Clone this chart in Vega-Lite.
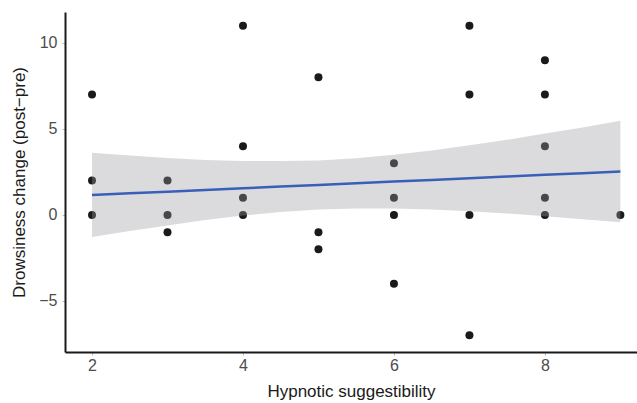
{
  "$schema": "https://vega.github.io/schema/vega-lite/v6.json",
  "width": 572,
  "height": 340,
  "autosize": {"type": "none"},
  "padding": {"left": 65, "top": 12, "right": 0, "bottom": 51},
  "background": "white",
  "config": {
    "view": {"stroke": null},
    "font": "Liberation Sans",
    "axis": {
      "grid": false,
      "domainColor": "#1a1a1a",
      "domainWidth": 2,
      "tickColor": "#bbbbbb",
      "tickSize": 3,
      "labelColor": "#4d4d4d",
      "labelFontSize": 16,
      "titleFontSize": 17,
      "titleFontWeight": "normal",
      "titleColor": "#1a1a1a",
      "labelFont": "Liberation Sans",
      "titleFont": "Liberation Sans"
    }
  },
  "datasets": {
    "pts": [
      {"x": 2, "y": 7}, {"x": 2, "y": 2}, {"x": 2, "y": 0},
      {"x": 3, "y": 2}, {"x": 3, "y": 0}, {"x": 3, "y": -1},
      {"x": 4, "y": 11}, {"x": 4, "y": 4}, {"x": 4, "y": 1}, {"x": 4, "y": 0},
      {"x": 5, "y": 8}, {"x": 5, "y": -1}, {"x": 5, "y": -2},
      {"x": 6, "y": 3}, {"x": 6, "y": 1}, {"x": 6, "y": 0}, {"x": 6, "y": -4},
      {"x": 7, "y": 11}, {"x": 7, "y": 7}, {"x": 7, "y": 0}, {"x": 7, "y": -7},
      {"x": 8, "y": 9}, {"x": 8, "y": 7}, {"x": 8, "y": 4}, {"x": 8, "y": 1}, {"x": 8, "y": 0},
      {"x": 9, "y": 0}
    ],
    "band": [
      {"x": 2, "fit": 1.16, "lo": -1.29, "hi": 3.61},
      {"x": 2.5, "fit": 1.26, "lo": -0.93, "hi": 3.45},
      {"x": 3, "fit": 1.35, "lo": -0.61, "hi": 3.31},
      {"x": 3.5, "fit": 1.45, "lo": -0.3, "hi": 3.2},
      {"x": 4, "fit": 1.55, "lo": -0.04, "hi": 3.14},
      {"x": 4.5, "fit": 1.65, "lo": 0.17, "hi": 3.13},
      {"x": 5, "fit": 1.74, "lo": 0.31, "hi": 3.17},
      {"x": 5.5, "fit": 1.84, "lo": 0.38, "hi": 3.3},
      {"x": 6, "fit": 1.94, "lo": 0.38, "hi": 3.5},
      {"x": 6.5, "fit": 2.03, "lo": 0.31, "hi": 3.75},
      {"x": 7, "fit": 2.13, "lo": 0.21, "hi": 4.05},
      {"x": 7.5, "fit": 2.23, "lo": 0.09, "hi": 4.37},
      {"x": 8, "fit": 2.33, "lo": -0.07, "hi": 4.73},
      {"x": 8.5, "fit": 2.42, "lo": -0.25, "hi": 5.09},
      {"x": 9, "fit": 2.52, "lo": -0.43, "hi": 5.47}
    ]
  },
  "layer": [
    {
      "data": {"name": "pts"},
      "mark": {"type": "circle", "size": 64, "color": "#1a1a1a", "opacity": 1},
      "encoding": {
        "x": {
          "field": "x", "type": "quantitative",
          "scale": {"domain": [1.642, 9.22], "nice": false, "zero": false},
          "axis": {"values": [2, 4, 6, 8], "format": "d", "title": "Hypnotic suggestibility", "labelPadding": 2, "titlePadding": 10}
        },
        "y": {
          "field": "y", "type": "quantitative",
          "scale": {"domain": [-7.97, 11.8], "nice": false, "zero": false},
          "axis": {"values": [-5, 0, 5, 10], "format": "d", "title": "Drowsiness change (post−pre)", "labelPadding": 5, "titlePadding": 10}
        }
      }
    },
    {
      "data": {"name": "band"},
      "mark": {"type": "area", "color": "#9a9ca2", "opacity": 0.36},
      "encoding": {
        "x": {"field": "x", "type": "quantitative"},
        "y": {"field": "lo", "type": "quantitative"},
        "y2": {"field": "hi"}
      }
    },
    {
      "data": {"name": "band"},
      "mark": {"type": "line", "color": "#3a5fb8", "strokeWidth": 2.5},
      "encoding": {
        "x": {"field": "x", "type": "quantitative"},
        "y": {"field": "fit", "type": "quantitative"}
      }
    }
  ]
}
